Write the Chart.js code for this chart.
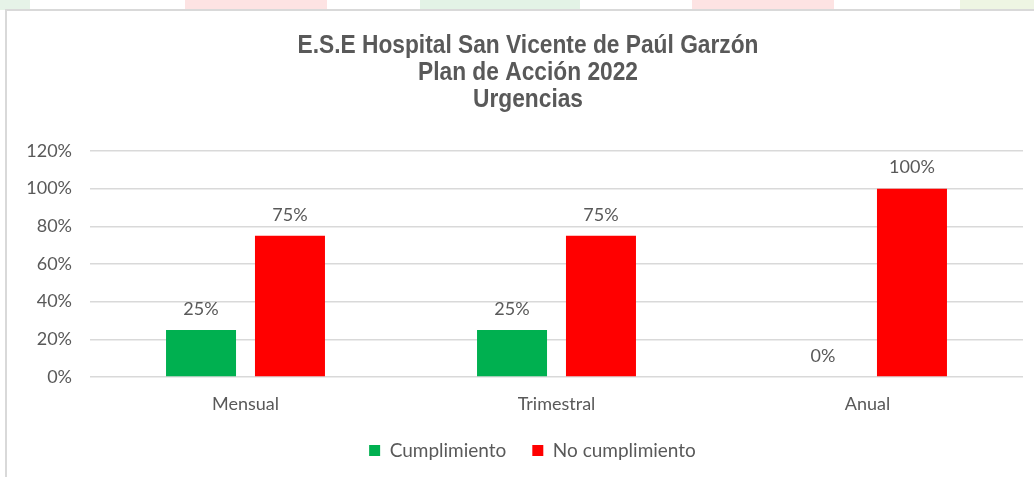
<!DOCTYPE html>
<html>
<head>
<meta charset="utf-8">
<script src="https://cdn.jsdelivr.net/npm/chart.js@4/dist/chart.umd.min.js"></script>
<style>
  html, body { margin: 0; padding: 0; background: #ffffff; overflow: hidden; }
  #wrap { position: relative; width: 1034px; height: 477px; }
  .blob { position: absolute; top: 0; height: 10px; }
  #frame { position: absolute; left: 5px; top: 9px; width: 1040px; height: 480px;
           border: 2px solid #d9d9d9; background: #ffffff; box-sizing: border-box; }
  canvas { position: absolute; left: 0; top: 0; }
</style>
</head>
<body>
<div id="wrap">
  <div class="blob" style="left:0;width:30px;background:#e6f3e8;"></div>
  <div class="blob" style="left:185px;width:142px;background:#fde3e3;"></div>
  <div class="blob" style="left:420px;width:160px;background:#e3f3e6;"></div>
  <div class="blob" style="left:692px;width:142px;background:#fde3e3;"></div>
  <div class="blob" style="left:960px;width:74px;background:#eef5e3;"></div>
  <div id="frame"></div>
  <canvas id="c" width="1034" height="477"></canvas>
</div>
<script>
const titleLines = ["E.S.E Hospital San Vicente de Paúl Garzón", "Plan de Acción 2022", "Urgencias"];
const categories = ["Mensual", "Trimestral", "Anual"];
const seriesNames = ["Cumplimiento", "No cumplimiento"];
const cumplimiento = [25, 25, 0];
const noCumplimiento = [75, 75, 100];
const yTicks = [0, 20, 40, 60, 80, 100, 120];

const textColor = "#595959";
const bodyFont = "Lato, 'Liberation Sans', sans-serif";

// Condensed bold title drawn as canvas text
const titlePlugin = {
  id: "condensedTitle",
  afterDraw(chart) {
    const ctx = chart.ctx;
    ctx.save();
    ctx.fillStyle = textColor;
    ctx.font = "bold 26px 'Liberation Sans', Arial, sans-serif";
    ctx.textAlign = "center";
    ctx.textBaseline = "alphabetic";
    const cx = 528, sx = 0.875;
    const baselines = [53, 80, 107];
    titleLines.forEach((t, i) => {
      ctx.save();
      ctx.translate(cx, baselines[i]);
      ctx.scale(sx, 1);
      ctx.fillText(t, 0, 0);
      ctx.restore();
    });
    ctx.restore();
  }
};

// place the legend where the reference has it
const legendPlace = {
  id: "legendPlace",
  afterLayout(chart) {
    const lg = chart.legend;
    if (!lg) return;
    const h = lg.height;
    lg.left = 42;
    lg.top = 415;
    lg.bottom = 415 + h;
  }
};

const labelPlugin = {
  id: "barLabels",
  afterDatasetsDraw(chart) {
    const ctx = chart.ctx;
    ctx.save();
    ctx.fillStyle = textColor;
    ctx.font = "18px " + bodyFont;
    ctx.textAlign = "center";
    ctx.textBaseline = "middle";
    chart.data.datasets.forEach((ds, i) => {
      const meta = chart.getDatasetMeta(i);
      meta.data.forEach((bar, j) => {
        ctx.fillText(ds.data[j] + "%", bar.x, bar.y - 21);
      });
    });
    ctx.restore();
  }
};

new Chart(document.getElementById("c"), {
  type: "bar",
  data: {
    labels: categories,
    datasets: [
      { label: seriesNames[0], data: cumplimiento, backgroundColor: "#00B050",
        categoryPercentage: 0.572, barPercentage: 0.787 },
      { label: seriesNames[1], data: noCumplimiento, backgroundColor: "#FF0000",
        categoryPercentage: 0.572, barPercentage: 0.787 }
    ]
  },
  options: {
    responsive: false,
    animation: false,
    events: [],
    layout: { padding: { top: 151, right: 11, left: 0, bottom: -8.6 } },
    plugins: {
      title: { display: false },
      legend: {
        position: "bottom",
        labels: {
          color: textColor,
          font: { family: bodyFont, size: 19 },
          boxWidth: 11, boxHeight: 11, padding: 26
        }
      },
      tooltip: { enabled: false }
    },
    scales: {
      x: {
        grid: { display: false, drawTicks: false },
        border: { display: false },
        ticks: { color: textColor, font: { family: bodyFont, size: 18 }, padding: 16 }
      },
      y: {
        min: 0, max: 120,
        afterFit(scale) { scale.width = 90; },
        afterBuildTicks(scale) { scale.ticks = yTicks.map(v => ({ value: v })); },
        grid: { color: "#d9d9d9", lineWidth: 1.5, drawTicks: false },
        border: { display: false },
        ticks: { color: textColor, font: { family: bodyFont, size: 18 }, padding: 18,
                 callback: v => v + "%" }
      }
    }
  },
  plugins: [labelPlugin, titlePlugin, legendPlace]
});
</script>
</body>
</html>
